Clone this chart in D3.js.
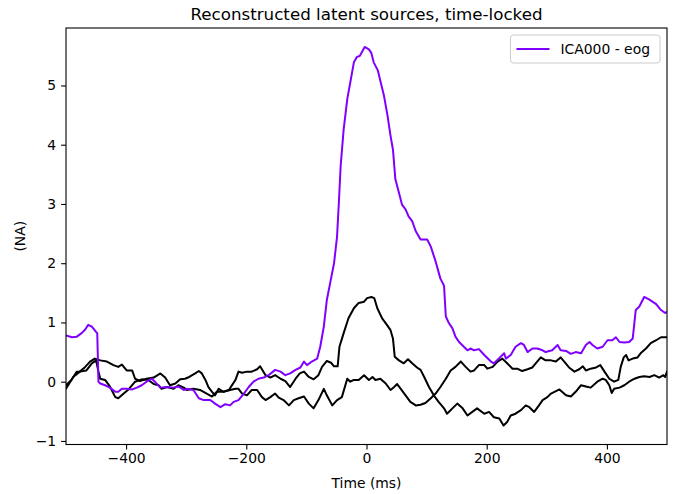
<!DOCTYPE html>
<html>
<head>
<meta charset="utf-8">
<script src="https://cdn.jsdelivr.net/npm/d3@7"></script>
<style>
  html, body { margin: 0; padding: 0; background: #fff; }
  svg { display: block; font-family: "DejaVu Sans", sans-serif; }
</style>
</head>
<body>
<svg id="chart" width="686" height="494"></svg>
<script>
// ---- data ----
const chartTitle = "Reconstructed latent sources, time-locked";
const xLabel = "Time (ms)";
const yLabel = "(NA)";
const legendLabel = "ICA000 - eog";
const xTicks = [-400, -200, 0, 200, 400];
const yTicks = [-1, 0, 1, 2, 3, 4, 5];

// ICA000 - eog  (time ms, value)
const eogSeries = [
  [-500,0.78],[-490,0.75],[-482,0.76],[-474,0.82],[-468,0.88],[-463,0.96],[-457,0.93],[-450,0.84],[-448,0.82],
  [-446,0.0],[-443,-0.03],[-435,-0.06],[-427,-0.1],[-418,-0.17],[-413,-0.17],[-407,-0.12],[-399,-0.12],[-390,-0.13],
  [-382,-0.1],[-374,-0.06],[-366,0.0],[-357,0.05],[-352,0.0],[-343,-0.1],[-332,-0.09],[-321,-0.1],[-313,-0.08],
  [-304,-0.14],[-299,-0.12],[-288,-0.14],[-279,-0.28],[-271,-0.31],[-260,-0.31],[-252,-0.37],[-243,-0.43],[-235,-0.38],
  [-227,-0.4],[-221,-0.34],[-213,-0.31],[-204,-0.2],[-196,-0.09],[-188,0.0],[-180,0.05],[-171,0.07],[-163,0.11],
  [-152,0.2],[-143,0.17],[-135,0.11],[-127,0.14],[-118,0.2],[-110,0.24],[-104,0.34],[-99,0.28],[-91,0.34],[-82,0.39],
  [-77,0.59],[-71,0.93],[-66,1.38],[-60,1.69],[-54,2.0],[-49,2.45],[-46,3.02],[-43,3.64],[-38,4.26],[-32,4.77],
  [-27,5.05],[-21,5.39],[-16,5.48],[-11,5.5],[-3,5.65],[4,5.61],[8,5.55],[12,5.39],[19,5.25],[23,5.08],[29,4.83],
  [35,4.49],[40,4.15],[44,3.92],[48,3.42],[54,3.19],[59,2.99],[65,2.91],[70,2.79],[76,2.71],[82,2.54],[90,2.4],
  [96,2.4],[101,2.4],[107,2.28],[115,2.03],[123,1.74],[129,1.62],[132,1.1],[137,0.99],[143,0.9],[148,0.76],
  [154,0.67],[162,0.59],[168,0.53],[173,0.56],[179,0.53],[187,0.55],[196,0.45],[207,0.34],[212,0.31],[220,0.39],
  [229,0.48],[232,0.39],[240,0.45],[248,0.59],[257,0.65],[262,0.62],[268,0.5],[276,0.56],[284,0.56],[293,0.53],
  [298,0.5],[309,0.53],[318,0.62],[323,0.53],[332,0.52],[340,0.47],[348,0.5],[357,0.48],[365,0.62],[371,0.67],
  [376,0.62],[384,0.56],[393,0.59],[401,0.7],[409,0.7],[415,0.75],[421,0.67],[429,0.66],[437,0.67],[443,0.73],
  [448,1.21],[454,1.27],[462,1.43],[470,1.39],[482,1.31],[490,1.21],[497,1.16],[500,1.18]
];

// other sources (black)
const sourceA = [
  [-500,-0.06],[-491,0.03],[-482,0.17],[-477,0.17],[-468,0.25],[-460,0.34],[-452,0.39],[-443,0.36],[-432,0.34],
  [-421,0.28],[-413,0.25],[-407,0.29],[-399,0.19],[-390,0.19],[-385,0.05],[-377,0.01],[-366,0.05],[-354,0.07],
  [-343,0.14],[-335,0.07],[-327,-0.06],[-318,-0.03],[-310,0.04],[-302,0.05],[-295,0.08],[-285,0.14],[-279,0.18],
  [-274,0.14],[-268,0.03],[-263,-0.09],[-257,-0.17],[-252,-0.23],[-246,-0.12],[-238,-0.17],[-229,-0.14],[-218,0.03],
  [-213,0.17],[-207,0.15],[-199,0.17],[-191,0.17],[-182,0.21],[-177,0.26],[-168,0.11],[-160,0.07],[-152,0.11],
  [-143,0.05],[-135,0.01],[-127,-0.09],[-118,0.05],[-111,0.14],[-104,0.17],[-96,0.08],[-88,0.04],[-80,0.11],
  [-74,0.25],[-66,0.35],[-59,0.32],[-54,0.26],[-48,0.26],[-45,0.59],[-38,0.82],[-30,1.07],[-21,1.24],[-13,1.33],
  [-4,1.35],[1,1.41],[8,1.43],[13,1.41],[18,1.24],[26,1.07],[34,0.96],[40,0.87],[44,0.73],[47,0.42],[54,0.36],
  [62,0.31],[69,0.38],[76,0.31],[84,0.24],[90,0.2],[96,0.08],[104,-0.09],[112,-0.23],[120,-0.34],[129,-0.45],
  [134,-0.54],[143,-0.45],[151,-0.37],[160,-0.45],[168,-0.57],[176,-0.51],[184,-0.45],[196,-0.54],[204,-0.51],
  [212,-0.6],[221,-0.62],[228,-0.74],[234,-0.68],[240,-0.57],[248,-0.54],[257,-0.48],[265,-0.4],[271,-0.43],
  [279,-0.51],[287,-0.4],[293,-0.31],[301,-0.26],[307,-0.2],[321,-0.13],[332,-0.23],[340,-0.25],[348,-0.17],
  [357,-0.06],[365,-0.08],[373,-0.1],[384,0.0],[393,0.05],[398,0.03],[404,-0.06],[408,-0.19],[412,-0.12],
  [421,-0.1],[429,-0.06],[437,0.0],[446,0.05],[454,0.08],[462,0.09],[471,0.08],[479,0.11],[487,0.07],[494,0.11],
  [497,0.08],[500,0.17]
];
const sourceB = [
  [-500,-0.12],[-488,0.08],[-477,0.17],[-466,0.19],[-457,0.31],[-450,0.36],[-446,0.17],[-443,0.05],[-435,0.03],
  [-427,-0.08],[-418,-0.26],[-413,-0.28],[-404,-0.2],[-396,-0.13],[-385,0.0],[-374,0.04],[-363,0.03],[-354,-0.04],
  [-346,-0.06],[-341,-0.12],[-332,-0.09],[-321,-0.12],[-313,-0.06],[-304,-0.1],[-299,-0.14],[-288,-0.12],[-277,-0.14],
  [-266,-0.2],[-257,-0.25],[-249,-0.17],[-238,-0.17],[-227,-0.14],[-218,-0.12],[-213,-0.12],[-207,-0.2],[-199,-0.23],
  [-191,-0.14],[-182,-0.14],[-174,-0.26],[-168,-0.31],[-160,-0.26],[-152,-0.2],[-146,-0.27],[-138,-0.31],[-129,-0.4],
  [-121,-0.31],[-113,-0.28],[-104,-0.25],[-96,-0.37],[-88,-0.45],[-80,-0.31],[-71,-0.12],[-66,-0.23],[-57,-0.4],
  [-49,-0.31],[-41,-0.26],[-32,0.05],[-27,0.0],[-21,0.03],[-13,0.03],[-4,0.11],[4,0.03],[10,0.08],[15,0.03],
  [23,0.05],[32,-0.03],[40,-0.14],[46,-0.09],[51,-0.04],[57,-0.12],[65,-0.23],[73,-0.34],[82,-0.4],[90,-0.39],
  [98,-0.36],[107,-0.28],[115,-0.2],[123,-0.09],[132,0.05],[140,0.19],[148,0.25],[157,0.34],[165,0.25],[173,0.17],
  [179,0.19],[187,0.28],[196,0.28],[201,0.22],[210,0.25],[218,0.34],[226,0.39],[234,0.31],[243,0.22],[251,0.22],
  [259,0.18],[268,0.21],[276,0.24],[284,0.34],[290,0.41],[298,0.36],[307,0.36],[315,0.34],[323,0.41],[329,0.34],
  [337,0.24],[346,0.17],[354,0.21],[360,0.26],[365,0.19],[373,0.22],[382,0.24],[389,0.28],[396,0.17],[404,0.05],
  [412,0.0],[419,0.03],[423,0.25],[428,0.41],[432,0.45],[436,0.36],[443,0.39],[451,0.41],[457,0.49],[465,0.56],
  [473,0.65],[482,0.7],[490,0.75],[500,0.75]
];

// ---- layout ----
const W = 686, H = 494;
const margin = { left: 66, right: 19, top: 28, bottom: 49.5 };
const fs = 13.9;
const svg = d3.select("#chart");

const x = d3.scaleLinear().domain([-500, 500]).range([margin.left, W - margin.right]);
const y = d3.scaleLinear().domain([-1.06, 5.97]).range([H - margin.bottom, margin.top]);

const clipId = "plotclip";
svg.append("defs").append("clipPath").attr("id", clipId)
  .append("rect")
  .attr("x", margin.left).attr("y", margin.top)
  .attr("width", W - margin.left - margin.right)
  .attr("height", H - margin.top - margin.bottom);

const line = d3.line().x(d => x(d[0])).y(d => y(d[1]));
const plot = svg.append("g").attr("clip-path", `url(#${clipId})`);

[sourceA, sourceB].forEach(s => {
  plot.append("path").datum(s)
    .attr("d", line)
    .attr("fill", "none")
    .attr("stroke", "#000")
    .attr("stroke-width", 2)
    .attr("stroke-linejoin", "round")
    .attr("stroke-linecap", "round");
});
plot.append("path").datum(eogSeries)
  .attr("d", line)
  .attr("fill", "none")
  .attr("stroke", "#8000ff")
  .attr("stroke-width", 2)
  .attr("stroke-linejoin", "round")
  .attr("stroke-linecap", "round");

// axes
const intFmt = d3.format("d");
const xAxis = d3.axisBottom(x).tickValues(xTicks).tickFormat(intFmt).tickSizeOuter(0).tickSize(4.9).tickPadding(4.2);
const yAxis = d3.axisLeft(y).tickValues(yTicks).tickFormat(intFmt).tickSizeOuter(0).tickSize(4.9).tickPadding(4.9);

const gx = svg.append("g").attr("transform", `translate(0,${H - margin.bottom})`).call(xAxis);
const gy = svg.append("g").attr("transform", `translate(${margin.left},0)`).call(yAxis);
[gx, gy].forEach(g => {
  g.select(".domain").remove();
  g.selectAll(".tick line").attr("stroke", "#000").attr("stroke-width", 1.1);
  g.selectAll(".tick text").attr("fill", "#000")
    .style("font-family", "DejaVu Sans").style("font-size", fs + "px");
});

// frame
svg.append("rect")
  .attr("x", margin.left).attr("y", margin.top)
  .attr("width", W - margin.left - margin.right)
  .attr("height", H - margin.top - margin.bottom)
  .attr("fill", "none").attr("stroke", "#000").attr("stroke-width", 1.1);

// title & labels
svg.append("text")
  .attr("x", (margin.left + W - margin.right) / 2).attr("y", 20)
  .attr("text-anchor", "middle")
  .style("font-size", "16.7px").attr("fill", "#000")
  .text(chartTitle);

svg.append("text")
  .attr("x", (margin.left + W - margin.right) / 2).attr("y", 488)
  .attr("text-anchor", "middle")
  .style("font-size", fs + "px").attr("fill", "#000")
  .text(xLabel);

svg.append("text")
  .attr("transform", `translate(25,${(margin.top + H - margin.bottom) / 2}) rotate(-90)`)
  .attr("text-anchor", "middle")
  .style("font-size", fs + "px").attr("fill", "#000")
  .text(yLabel);

// legend
const lg = svg.append("g");
const pad = 6, handleLen = 33, handlePad = 11;
const txt = lg.append("text").style("font-size", fs + "px").attr("fill", "#000").text(legendLabel);
const tw = txt.node().getComputedTextLength();
const boxW = pad * 2 + handleLen + handlePad + tw + 4;
const boxH = 28;
const boxRight = W - margin.right - 7;
const boxTop = margin.top + 7;
const boxLeft = boxRight - boxW;
lg.insert("rect", "text")
  .attr("x", boxLeft).attr("y", boxTop)
  .attr("width", boxW).attr("height", boxH)
  .attr("rx", 3).attr("ry", 3)
  .attr("fill", "rgba(255,255,255,0.8)")
  .attr("stroke", "#cccccc").attr("stroke-width", 1);
const midY = boxTop + boxH / 2;
lg.append("line")
  .attr("x1", boxLeft + pad).attr("x2", boxLeft + pad + handleLen)
  .attr("y1", midY).attr("y2", midY)
  .attr("stroke", "#8000ff").attr("stroke-width", 2);
txt.attr("x", boxLeft + pad + handleLen + handlePad).attr("y", midY + 5);
</script>
</body>
</html>
